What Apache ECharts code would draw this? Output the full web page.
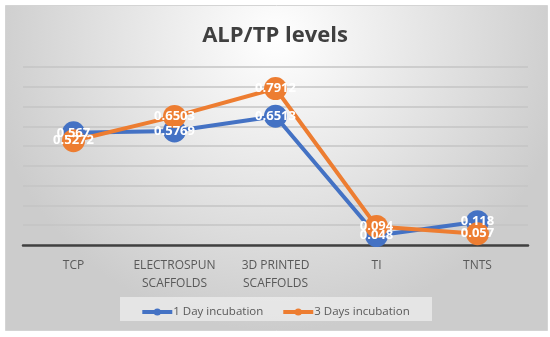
<!DOCTYPE html>
<html>
<head>
<meta charset="utf-8">
<script src="https://cdn.jsdelivr.net/npm/echarts@6/dist/echarts.min.js"></script>
<style>html,body{margin:0;padding:0;background:#fff}#c{width:550px;height:337px}</style>
</head>
<body>
<div id="c"></div>
<script>
const categories = ['TCP', 'ELECTROSPUN\nSCAFFOLDS', '3D PRINTED\nSCAFFOLDS', 'TI', 'TNTS'];
const day1 = [0.567, 0.5769, 0.6513, 0.048, 0.118];
const day3 = [0.5272, 0.6503, 0.7912, 0.094, 0.057];
const seriesNames = ['1 Day incubation', '3 Days incubation'];
const colors = ['#4472C4', '#ED7D31'];

const chart = echarts.init(document.getElementById('c'), null, {renderer: 'canvas'});
const labelStyle = {show: true, position: 'inside', color: '#fff', fontSize: 13, fontWeight: 'bold', fontFamily: 'Open Sans', formatter: p => String(p.value)};
function mk(name, data, color) {
  return {
    name, type: 'line', data, symbol: 'circle', symbolSize: 23,
    lineStyle: {color, width: 4}, itemStyle: {color},
    label: labelStyle, emphasis: {disabled: true}
  };
}
chart.setOption({
  animation: false,
  backgroundColor: '#fff',
  graphic: {elements: [
    {type: 'rect', z: -100, shape: {x: 5.5, y: 5.5, width: 542, height: 325},
     style: {fill: new echarts.graphic.RadialGradient(0.5, 0.1, 0.9, [{offset: 0, color: '#ffffff'}, {offset: 1, color: '#cccccc'}]), stroke: '#d4d4d4', lineWidth: 1}},
    {type: 'rect', z: -50, shape: {x: 120, y: 297, width: 312, height: 24},
     style: {fill: 'rgba(240,240,240,0.7)'}}
  ]},
  title: {text: 'ALP/TP levels', left: 'center', top: 20,
    textStyle: {fontFamily: 'Open Sans', fontWeight: 'bold', fontSize: 22, color: '#404040'}},
  legend: {data: seriesNames, top: 301, left: 'center', itemWidth: 30, itemHeight: 9, itemGap: 18,
    lineStyle: {width: 4},
    textStyle: {fontFamily: 'Open Sans', fontSize: 11.5, color: '#595959', padding: [0, 0, 0, -4]}},
  grid: {left: 23, right: 22, top: 67, bottom: 92},
  xAxis: {type: 'category', data: categories, boundaryGap: true,
    axisLine: {lineStyle: {color: '#404040', width: 2.5}}, axisTick: {show: false},
    axisLabel: {color: '#595959', fontFamily: 'Open Sans', fontSize: 12, margin: 12, lineHeight: 18, interval: 0}},
  yAxis: {type: 'value', min: 0, max: 0.9, interval: 0.1,
    axisLabel: {show: false}, axisLine: {show: false}, axisTick: {show: false},
    splitLine: {lineStyle: {color: '#c4c4c4', width: 1.5}}},
  series: [mk(seriesNames[0], day1, colors[0]), mk(seriesNames[1], day3, colors[1])]
});
</script>
</body>
</html>
